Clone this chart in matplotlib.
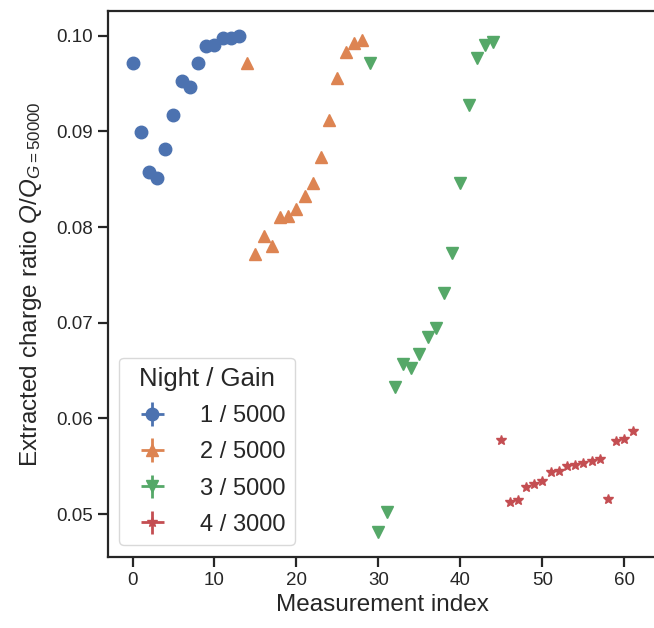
import matplotlib
matplotlib.use("Agg")
import matplotlib.pyplot as plt
import numpy as np
import seaborn as sns

# === Data ===
night1_idx = list(range(0, 14))
night1_ratio = [0.0972, 0.0899, 0.0858, 0.0851, 0.0882, 0.0917, 0.0953,
                0.0946, 0.0972, 0.0989, 0.0990, 0.0998, 0.0998, 0.1000]

night2_idx = list(range(14, 29))
night2_ratio = [0.0972, 0.0772, 0.0791, 0.0780, 0.0811, 0.0812, 0.0819,
                0.0832, 0.0846, 0.0873, 0.0912, 0.0956, 0.0983, 0.0993, 0.0996]

night3_idx = list(range(29, 45))
night3_ratio = [0.0972, 0.0481, 0.0502, 0.0633, 0.0657, 0.0653, 0.0667,
                0.0685, 0.0694, 0.0731, 0.0773, 0.0846, 0.0928, 0.0977,
                0.0990, 0.0994]

night4_idx = list(range(45, 62))
night4_ratio = [0.0577, 0.0513, 0.0515, 0.0528, 0.0531, 0.0535, 0.0544,
                0.0545, 0.0550, 0.0551, 0.0553, 0.0555, 0.0557, 0.0516,
                0.0576, 0.0578, 0.0587]

series_labels = ["1 / 5000", "2 / 5000", "3 / 5000", "4 / 3000"]
legend_title = "Night / Gain"

# === Style ===
sns.set_theme(style="ticks")
plt.rcParams["font.family"] = ["Liberation Sans", "DejaVu Sans"]
plt.rcParams["mathtext.fontset"] = "custom"
plt.rcParams["mathtext.rm"] = "Liberation Sans"
plt.rcParams["mathtext.it"] = "Liberation Sans:italic"
plt.rcParams["axes.edgecolor"] = "#262626"
plt.rcParams["axes.linewidth"] = 1.6
plt.rcParams["xtick.major.size"] = 7
plt.rcParams["ytick.major.size"] = 7
plt.rcParams["xtick.major.width"] = 1.6
plt.rcParams["ytick.major.width"] = 1.6

colors = sns.color_palette("deep", 4)
markers = ["o", "^", "v", "*"]
sizes = [9, 9, 9, 7.5]

fig = plt.figure(figsize=(6.54, 6.28), dpi=100)
ax = fig.add_axes([107.5 / 654, 71 / 628, 550 / 654, 546 / 628])

data = [(night1_idx, night1_ratio), (night2_idx, night2_ratio),
        (night3_idx, night3_ratio), (night4_idx, night4_ratio)]

for (xs, ys), lab, c, m, ms in zip(data, series_labels, colors, markers, sizes):
    ax.errorbar(xs, ys, xerr=np.zeros(len(xs)), yerr=np.zeros(len(xs)),
                fmt=m, color=c, ms=ms, elinewidth=2, label=lab)

ax.set_xlabel("Measurement index", fontsize=17.5)
ax.set_ylabel("Extracted charge ratio $Q/Q_{G=50000}$", fontsize=17.5,
              labelpad=9)
ax.tick_params(labelsize=13.5, color="#262626", labelcolor="#262626")
ax.set_xticks([0, 10, 20, 30, 40, 50, 60])
ax.set_yticks([0.05, 0.06, 0.07, 0.08, 0.09, 0.10])
ax.yaxis.set_major_formatter(matplotlib.ticker.FormatStrFormatter("%.2f"))

leg = ax.legend(title=legend_title, loc="lower left", fontsize=17,
                title_fontsize=18.5, frameon=True, labelspacing=0.6,
                handletextpad=1.0)
leg.get_frame().set_edgecolor("#d0d0d0")

fig.savefig("out.png", dpi=100)
